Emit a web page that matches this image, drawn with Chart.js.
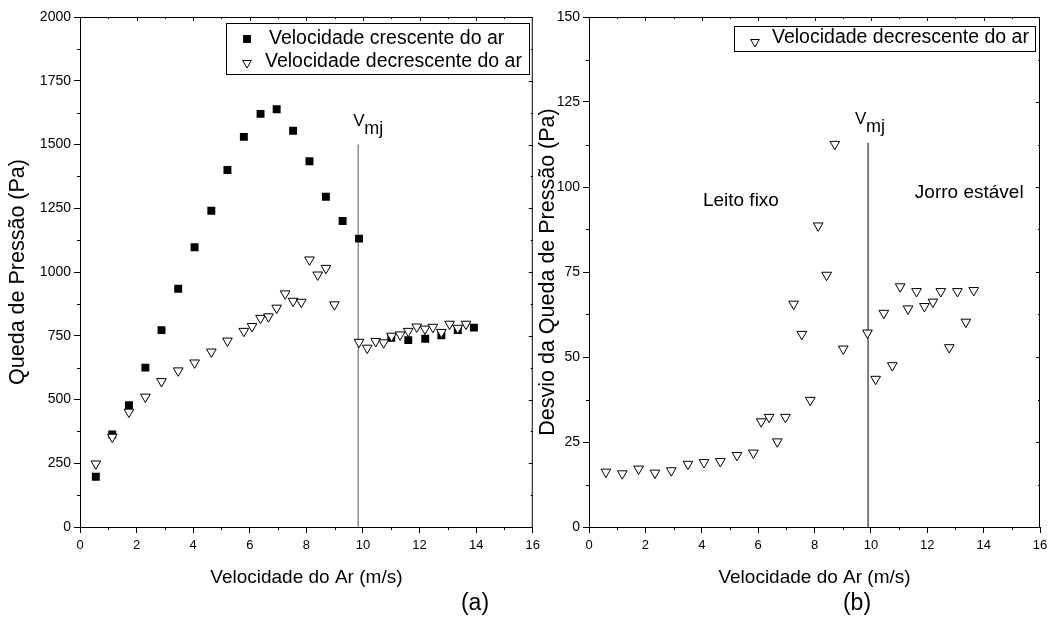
<!DOCTYPE html>
<html>
<head>
<meta charset="utf-8">
<script src="https://cdn.jsdelivr.net/npm/chart.js@4.4.1/dist/chart.umd.min.js"></script>
<style>
  html, body { margin: 0; padding: 0; background: #fff; }
  #wrap { position: relative; width: 1056px; height: 619px; overflow: hidden; }
  #chartA { position: absolute; left: 0; top: 0; }
  #chartB { position: absolute; left: 528px; top: 0; }
</style>
</head>
<body>
<div id="wrap">
  <canvas id="chartA" width="545" height="619"></canvas>
  <canvas id="chartB" width="528" height="619"></canvas>
</div>
<script>
// (a) queda de pressão - velocidade crescente do ar
const velCrescente = [0.56, 1.14, 1.73, 2.31, 2.88, 3.47, 4.05, 4.64, 5.21, 5.79, 6.38, 6.95,
  7.53, 8.11, 8.69, 9.28, 9.86, 11.0, 11.6, 12.2, 12.77, 13.35, 13.92];
const quedaCrescente = [197, 363, 478, 625, 772, 934, 1097, 1240, 1400, 1530, 1620, 1638,
  1554, 1434, 1295, 1200, 1131, 742, 733, 738, 752, 772, 782];

// (a) queda de pressão - velocidade decrescente do ar
const velDecrescente = [0.56, 1.14, 1.73, 2.31, 2.88, 3.47, 4.05, 4.64, 5.21, 5.79, 6.08, 6.38,
  6.66, 6.95, 7.25, 7.53, 7.82, 8.11, 8.40, 8.69, 8.99, 9.86, 10.15, 10.45, 10.73, 11.01, 11.31,
  11.6, 11.9, 12.19, 12.47, 12.77, 13.06, 13.35, 13.64];
const quedaDecrescente = [248, 353, 451, 510, 571, 613, 644, 687, 730, 768, 787, 819,
  825, 859, 915, 886, 882, 1048, 989, 1015, 872, 725, 702, 728, 723, 749, 754,
  768, 785, 777, 784, 764, 796, 780, 796];

// (b) desvio da queda de pressão - velocidade decrescente do ar
const velDesvio = [0.60, 1.18, 1.76, 2.34, 2.92, 3.51, 4.08, 4.66, 5.25, 5.83, 6.11, 6.39,
  6.68, 6.97, 7.26, 7.55, 7.85, 8.13, 8.43, 8.72, 9.02, 9.88, 10.17, 10.46, 10.76, 11.04, 11.32,
  11.62, 11.90, 12.20, 12.48, 12.78, 13.07, 13.37, 13.65];
const desvio = [16.2, 15.7, 17.1, 15.9, 16.6, 18.5, 19.0, 19.3, 21.1, 21.8, 31.0, 32.3,
  25.1, 32.3, 65.6, 56.7, 37.3, 88.6, 74.1, 112.6, 52.4, 57.1, 43.5, 62.9, 47.5, 70.7, 64.2,
  69.3, 64.9, 66.2, 69.3, 52.8, 69.3, 60.3, 69.6];

// velocidade de mínimo jorro (linha vertical)
const vmjA = [9.83, 9.83];
const vmjLinhaA = [0, 1500];
const vmjB = [9.9, 9.9];
const vmjLinhaB = [0, 113];

const SANS = "'Liberation Sans', Arial, sans-serif";
Chart.defaults.color = '#000';
Chart.defaults.font.family = SANS;

const pts = (xs, ys) => xs.map((x, i) => ({ x: x, y: ys[i] }));

const squareStyle = { pointStyle: 'rect', pointRadius: 5.6, backgroundColor: '#000', borderColor: '#000', borderWidth: 0 };
const triStyle = { pointStyle: 'triangle', rotation: 180, pointRadius: 5.6, backgroundColor: '#fff', borderColor: '#000', borderWidth: 1 };

// moldura, ticks secundários, legenda e anotações
const decor = {
  id: 'decor',
  afterDraw(chart, args, o) {
    const ctx = chart.ctx;
    const a = chart.chartArea;
    const xs = chart.scales.x, ys = chart.scales.y;
    ctx.save();
    ctx.strokeStyle = '#000';
    ctx.lineWidth = 1;
    ctx.beginPath();
    ctx.moveTo(a.left, a.top + 0.5); ctx.lineTo(a.right, a.top + 0.5);
    ctx.moveTo(a.right - 0.5, a.top); ctx.lineTo(a.right - 0.5, a.bottom);
    // ticks menores
    for (let v = 1; v < xs.max; v += 2) {
      const p = Math.round(xs.getPixelForValue(v)) + 0.5;
      ctx.moveTo(p, a.bottom); ctx.lineTo(p, a.bottom + 3);
    }
    for (let v = o.yStep / 2; v < ys.max; v += o.yStep) {
      const p = Math.round(ys.getPixelForValue(v)) + 0.5;
      ctx.moveTo(a.left, p); ctx.lineTo(a.left - 3, p);
    }
    // ticks espelhados (topo e direita, para dentro)
    for (let v = 1; v < xs.max; v += 1) {
      const p = Math.round(xs.getPixelForValue(v)) + 0.5;
      const len = v % 2 === 0 ? 4 : 2;
      ctx.moveTo(p, a.top); ctx.lineTo(p, a.top + len);
    }
    for (let v = o.yStep / 2; v < ys.max; v += o.yStep / 2) {
      const p = Math.round(ys.getPixelForValue(v)) + 0.5;
      const len = Math.abs(v % o.yStep) < 1e-9 ? 4 : 2;
      ctx.moveTo(a.right, p); ctx.lineTo(a.right - len, p);
    }
    ctx.stroke();

    // legenda
    const lg = o.legend;
    ctx.fillStyle = '#fff';
    ctx.fillRect(lg.x, lg.y, lg.w, lg.h);
    ctx.strokeRect(lg.x + 0.5, lg.y + 0.5, lg.w, lg.h);
    ctx.font = '19.5px ' + SANS;
    ctx.textBaseline = 'middle';
    ctx.textAlign = 'left';
    lg.items.forEach(it => {
      const st = it.style;
      ctx.fillStyle = st.backgroundColor;
      ctx.strokeStyle = st.borderColor;
      ctx.lineWidth = st.borderWidth;
      Chart.helpers.drawPoint(ctx, { pointStyle: st.pointStyle, rotation: st.rotation || 0,
        radius: it.r, borderWidth: st.borderWidth }, it.mx, it.my);
      ctx.fillStyle = '#000';
      ctx.fillText(it.text, it.tx, it.ty);
    });

    // V_mj
    const lx = xs.getPixelForValue(o.vmj.x);
    const ly = ys.getPixelForValue(o.vmj.y);
    ctx.fillStyle = '#000';
    ctx.textBaseline = 'alphabetic';
    ctx.font = '17px ' + SANS;
    ctx.fillText('V', lx + o.vmj.dx, ly - 19);
    ctx.font = '18px ' + SANS;
    ctx.fillText('mj', lx + o.vmj.dx + 11, ly - 11);

    // notas
    ctx.font = '19px ' + SANS;
    (o.notes || []).forEach(n => {
      ctx.fillText(n.text, xs.getPixelForValue(n.x), ys.getPixelForValue(n.y));
    });

    // rótulo do painel
    ctx.font = '23px ' + SANS;
    ctx.textAlign = 'center';
    ctx.textBaseline = 'middle';
    ctx.fillText(o.panel, o.panelX, 604);
    ctx.restore();
  }
};

function axes(yMax, yStep, yTitle, yWidth, yPad) {
  return {
    x: {
      type: 'linear', min: 0, max: 16,
      ticks: { stepSize: 2, padding: 5, maxRotation: 0, autoSkip: false, font: { family: SANS, size: 13 } },
      grid: { drawOnChartArea: false, drawTicks: true, tickLength: 6, color: '#000' },
      border: { display: true, color: '#000', width: 1 },
      title: { display: true, text: 'Velocidade do Ar (m/s)', font: { family: SANS, size: 19 }, padding: { top: 0, bottom: 30 } },
      afterFit: s => { s.height = 92; }
    },
    y: {
      type: 'linear', min: 0, max: yMax,
      ticks: { stepSize: yStep, padding: 3, font: { family: SANS, size: 14 }, callback: v => String(v) },
      grid: { drawOnChartArea: false, drawTicks: true, tickLength: 6, color: '#000' },
      border: { display: true, color: '#000', width: 1 },
      title: { display: true, text: yTitle, font: { family: SANS, size: 21.5 }, padding: { top: yPad, bottom: 0 } },
      afterFit: s => { s.width = yWidth; }
    }
  };
}

new Chart(document.getElementById('chartA'), {
  type: 'scatter',
  data: {
    datasets: [
      Object.assign({ label: 'Velocidade crescente do ar', data: pts(velCrescente, quedaCrescente), order: 2 }, squareStyle),
      Object.assign({ label: 'Velocidade decrescente do ar', data: pts(velDecrescente, quedaDecrescente), order: 1 }, triStyle),
      { type: 'line', label: 'Vmj', data: pts(vmjA, vmjLinhaA), showLine: true, pointRadius: 0,
        borderColor: '#555', borderWidth: 1, order: 3 }
    ]
  },
  options: {
    responsive: false, animation: false, devicePixelRatio: 1,
    layout: { padding: { top: 17, right: 12, left: 0, bottom: 0 } },
    plugins: {
      legend: { display: false }, tooltip: { enabled: false },
      decor: {
        yStep: 250,
        legend: { x: 226, y: 23, w: 303, h: 51, items: [
          { text: 'Velocidade crescente do ar', style: squareStyle, r: 5.6, mx: 247, my: 39, tx: 269, ty: 39 },
          { text: 'Velocidade decrescente do ar', style: triStyle, r: 5, mx: 247, my: 63, tx: 265, ty: 62 }
        ] },
        vmj: { x: 9.83, y: 1500, dx: -5 },
        panel: '(a)', panelX: 475
      }
    },
    scales: axes(2000, 250, 'Queda de Pressão (Pa)', 80, 5)
  },
  plugins: [decor]
});

new Chart(document.getElementById('chartB'), {
  type: 'scatter',
  data: {
    datasets: [
      Object.assign({ label: 'Velocidade decrescente do ar', data: pts(velDesvio, desvio), order: 1 }, triStyle),
      { type: 'line', label: 'Vmj', data: pts(vmjB, vmjLinhaB), showLine: true, pointRadius: 0,
        borderColor: '#000', borderWidth: 1, order: 3 }
    ]
  },
  options: {
    responsive: false, animation: false, devicePixelRatio: 1,
    layout: { padding: { top: 17, right: 16, left: 0, bottom: 0 } },
    plugins: {
      legend: { display: false }, tooltip: { enabled: false },
      decor: {
        yStep: 25,
        legend: { x: 206, y: 26, w: 301, h: 25, items: [
          { text: 'Velocidade decrescente do ar', style: triStyle, r: 5, mx: 227, my: 42, tx: 244, ty: 38 }
        ] },
        vmj: { x: 9.9, y: 113, dx: -13 },
        notes: [
          { text: 'Leito fixo', x: 4.04, y: 94.4 },
          { text: 'Jorro estável', x: 11.56, y: 96.8 }
        ],
        panel: '(b)', panelX: 329
      }
    },
    scales: axes(150, 25, 'Desvio da Queda de Pressão (Pa)', 61, 7)
  },
  plugins: [decor]
});
</script>
</body>
</html>
